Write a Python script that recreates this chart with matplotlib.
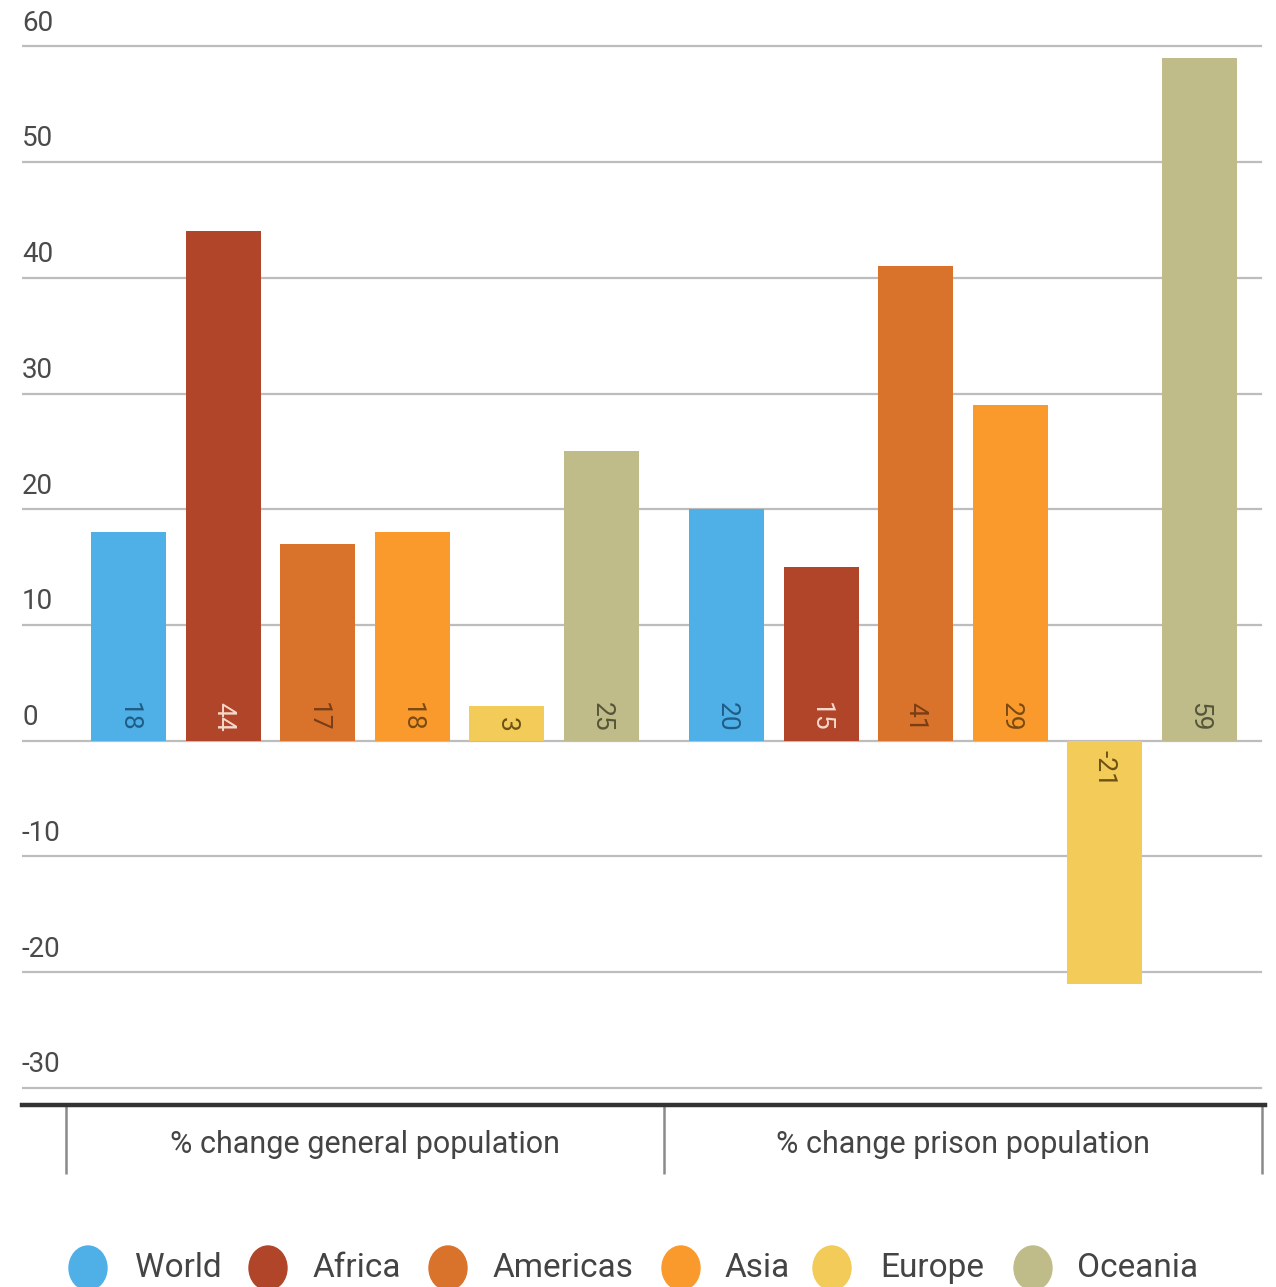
import matplotlib
matplotlib.use("Agg")
import matplotlib.pyplot as plt
from matplotlib.patches import Ellipse
import matplotlib.transforms as mtransforms
import numpy as np

plt.rcParams['font.family'] = ['Roboto', 'DejaVu Sans']

categories = ["% change general population", "% change prison population"]
regions = ["World", "Africa", "Americas", "Asia", "Europe", "Oceania"]
general = [18, 44, 17, 18, 3, 25]
prison = [20, 15, 41, 29, -21, 59]
yticks = [60, 50, 40, 30, 20, 10, 0, -10, -20, -30]

colors = ["#4FB0E8", "#B0452A", "#D9732C", "#FA9A2D", "#F2CB58", "#BFBC8A"]
label_colors = ["#1f5d85", "#f6d9cc", "#7a3d14", "#7a4a10", "#6b5214", "#55553a"]

W, H = 1276, 1287
fig = plt.figure(figsize=(W / 100, H / 100), dpi=100)
ax = fig.add_axes([22 / W, (H - 1105) / H, (1265 - 22) / W, 1105 / H])

ax.set_xlim(-0.5737, 1.505)
ax.set_ylim(-31.47, 64)

bar_step = 0.158
bar_w = 0.1256
values = [general, prison]
for ci, vals in enumerate(values):
    for k, v in enumerate(vals):
        x = ci + (k - 2.5) * bar_step
        ax.bar(x, v, width=bar_w, color=colors[k], zorder=3)
        if v >= 0:
            ax.text(x, 0.8, str(v), rotation=-90, rotation_mode='anchor',
                    ha='right', va='center', fontsize=19, color=label_colors[k], zorder=4)
        else:
            ax.text(x, -0.8, str(v), rotation=-90, rotation_mode='anchor',
                    ha='left', va='center', fontsize=19, color=label_colors[k], zorder=4)

# gridlines and y labels
ylab_tr = mtransforms.blended_transform_factory(ax.transAxes, ax.transData) + \
    mtransforms.ScaledTranslation(0, 7 / 72, fig.dpi_scale_trans)
for t in yticks:
    ax.plot([0, 0.9968], [t, t], transform=mtransforms.blended_transform_factory(ax.transAxes, ax.transData),
            color="#bdbdbd", lw=1.6, zorder=1)
    ax.text(0, t, str(t), transform=ylab_tr,
            ha='left', va='bottom', fontsize=20, color="#4a4a4a")
ax.set_yticks([])

for s in ["top", "right", "left"]:
    ax.spines[s].set_visible(False)
ax.spines["bottom"].set_linewidth(3.2)
ax.spines["bottom"].set_color("#333333")

ax.set_xticks([0, 1])
ax.set_xticklabels(categories, fontsize=22, color="#444444")
ax.tick_params(axis='x', which='major', length=0, pad=18)
ax.set_xticks([-0.5, 0.5, 1.5], minor=True)
ax.tick_params(axis='x', which='minor', length=50, width=1.8, color="#8a8a8a", direction='out')

# legend
lax = fig.add_axes([0, 0, 1, 1], zorder=5)
lax.set_xlim(0, W)
lax.set_ylim(H, 0)
lax.axis('off')
circle_x = [88, 268, 448, 681, 832, 1033]
text_x = [135, 313, 493, 725, 880, 1077]
for k, name in enumerate(regions):
    lax.add_patch(Ellipse((circle_x[k], 1268), 38, 44, color=colors[k]))
    lax.text(text_x[k], 1268, name, fontsize=24, color="#444444", va='center', ha='left')

fig.savefig("out.png", dpi=100, facecolor="white")
